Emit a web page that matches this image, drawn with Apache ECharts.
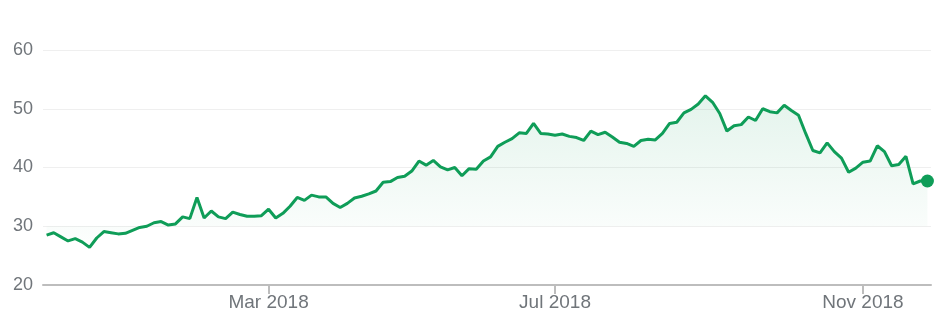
<!DOCTYPE html>
<html>
<head>
<meta charset="utf-8">
<style>
  html, body { margin: 0; padding: 0; background: #ffffff; }
  #chart { width: 939px; height: 325px; }
</style>
<script src="https://cdn.jsdelivr.net/npm/echarts@6/dist/echarts.min.js"></script>
</head>
<body>
<div id="chart"></div>
<script>
// Month segments: [year, month, first day, number of samples]
const monthSegments = [
  [2017, 11, 27, 2], [2017, 12, 1, 10], [2018, 1, 1, 10], [2018, 2, 1, 9],
  [2018, 3, 1, 11], [2018, 4, 1, 10], [2018, 5, 1, 10], [2018, 6, 1, 9],
  [2018, 7, 1, 11], [2018, 8, 1, 11], [2018, 9, 1, 10], [2018, 10, 1, 11],
  [2018, 11, 1, 10]
];

const prices = [
  28.5, 28.9, 28.2, 27.5, 27.9, 27.3, 26.4, 28.0, 29.1, 28.9,
  28.7, 28.8, 29.3, 29.8, 30.0, 30.6, 30.8, 30.2, 30.4, 31.6,
  31.3, 34.9, 31.4, 32.6, 31.6, 31.3, 32.4, 32.0, 31.7, 31.7,
  31.8, 32.9, 31.4, 32.2, 33.4, 34.9, 34.4, 35.3, 35.0, 35.0,
  33.9, 33.2, 33.9, 34.8, 35.1, 35.5, 36.0, 37.5, 37.6, 38.3,
  38.5, 39.4, 41.1, 40.4, 41.2, 40.1, 39.6, 40.0, 38.6, 39.8,
  39.7, 41.1, 41.8, 43.6, 44.3, 44.9, 45.9, 45.8, 47.5, 45.8,
  45.7, 45.5, 45.7, 45.3, 45.1, 44.6, 46.2, 45.6, 46.0, 45.2,
  44.3, 44.1, 43.6, 44.6, 44.8, 44.7, 45.8, 47.5, 47.7, 49.3,
  49.9, 50.8, 52.2, 51.1, 49.2, 46.2, 47.1, 47.3, 48.6, 48.0,
  50.0, 49.5, 49.3, 50.6, 49.7, 48.9, 45.8, 42.9, 42.5, 44.2,
  42.7, 41.6, 39.2, 39.9, 40.9, 41.1, 43.7, 42.7, 40.3, 40.5,
  41.9, 37.2, 37.7, 37.7
];

const yTicks = [20, 30, 40, 50, 60];
const xTickLabels = ['Mar 2018', 'Jul 2018', 'Nov 2018'];
const monthNames = ['Jan','Feb','Mar','Apr','May','Jun','Jul','Aug','Sep','Oct','Nov','Dec'];

// Build category dates from the month segments
const categories = [];
monthSegments.forEach(([y, m, first, count]) => {
  const dim = new Date(y, m, 0).getDate();
  const span = dim - first + 1;
  for (let k = 0; k < count; k++) {
    const d = first + Math.floor(k * span / count);
    categories.push(y + '-' + String(m).padStart(2, '0') + '-' + String(d).padStart(2, '0'));
  }
});

function monthLabel(cat) {
  const [y, m] = cat.split('-');
  return monthNames[parseInt(m, 10) - 1] + ' ' + y;
}
function isTickIndex(i) {
  const cat = categories[i];
  if (!cat) return false;
  const first = i === 0 || categories[i - 1].slice(0, 7) !== cat.slice(0, 7);
  return first && xTickLabels.indexOf(monthLabel(cat)) >= 0;
}

const lastIndex = prices.length - 1;
const endPoint = prices.map((v, i) => (i === lastIndex ? v : null));

const chart = echarts.init(document.getElementById('chart'), null, { renderer: 'canvas' });
chart.setOption({
  animation: false,
  backgroundColor: '#ffffff',
  grid: { left: 43, right: 8, top: 50, bottom: 40 },
  xAxis: {
    type: 'category',
    data: categories,
    boundaryGap: true,
    axisLine: { show: true, lineStyle: { color: '#bdbdbd', width: 2 } },
    axisTick: {
      show: true,
      alignWithLabel: true,
      length: 9,
      interval: (i) => isTickIndex(i),
      lineStyle: { color: '#bdbdbd', width: 2 }
    },
    axisLabel: {
      interval: (i) => isTickIndex(i),
      formatter: (v) => monthLabel(v),
      color: '#70757a',
      fontSize: 19,
      fontFamily: 'Liberation Sans, Arial, sans-serif',
      margin: 8
    },
    splitLine: { show: false }
  },
  yAxis: {
    type: 'value',
    min: yTicks[0],
    max: yTicks[yTicks.length - 1],
    interval: 10,
    axisLine: { show: false },
    axisTick: { show: false },
    axisLabel: {
      color: '#70757a',
      fontSize: 18,
      fontFamily: 'Liberation Sans, Arial, sans-serif',
      margin: 10
    },
    splitLine: { show: true, lineStyle: { color: '#efefef', width: 1 } }
  },
  series: [
    {
      type: 'line',
      data: prices,
      showSymbol: false,
      symbol: 'none',
      lineStyle: { color: '#0f9d58', width: 3 },
      itemStyle: { color: '#0f9d58' },
      areaStyle: {
        origin: 30,
        color: new echarts.graphic.LinearGradient(0, 0, 0, 1, [
          { offset: 0, color: 'rgba(15,157,88,0.16)' },
          { offset: 1, color: 'rgba(15,157,88,0.01)' }
        ])
      },
      z: 3
    },
    {
      type: 'scatter',
      data: endPoint,
      symbol: 'circle',
      symbolSize: 13,
      itemStyle: { color: '#0f9d58', opacity: 1 },
      z: 4
    }
  ]
});
</script>
</body>
</html>
